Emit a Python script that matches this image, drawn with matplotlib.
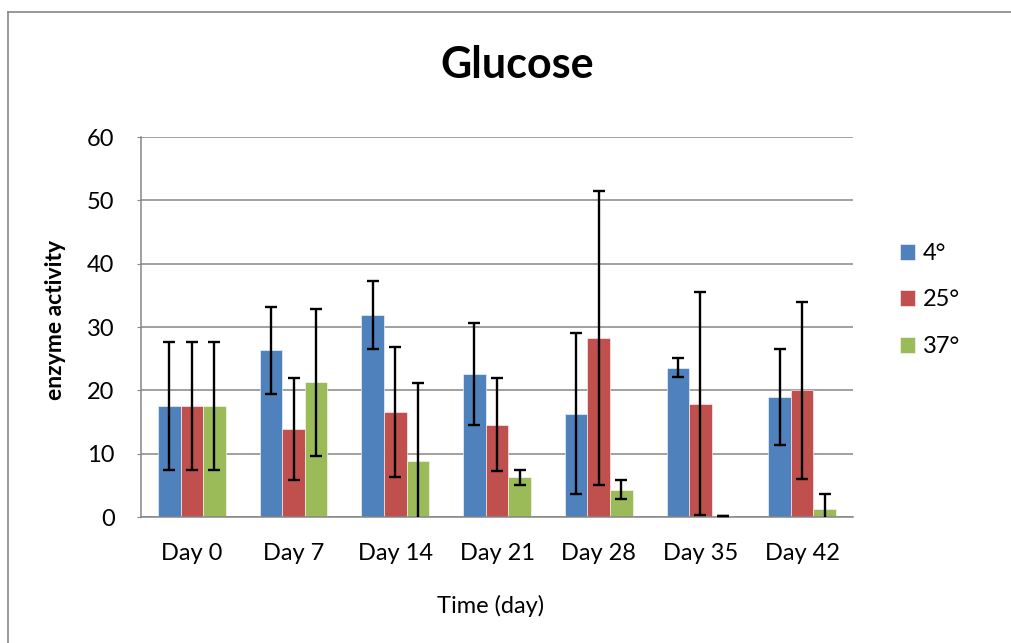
import matplotlib.pyplot as plt
import numpy as np
from matplotlib.lines import Line2D

# Data
days = ['Day 0', 'Day 7', 'Day 14', 'Day 21', 'Day 28', 'Day 35', 'Day 42']
series = ['4°', '25°', '37°']
vals_4 = [17.6, 26.3, 31.9, 22.6, 16.3, 23.6, 18.9]
vals_25 = [17.6, 13.9, 16.6, 14.6, 28.3, 17.9, 20.0]
vals_37 = [17.6, 21.3, 8.9, 6.3, 4.3, 0.1, 1.3]
err_4 = [10.1, 6.9, 5.3, 8.1, 12.7, 1.55, 7.6]
err_25 = [10.1, 8.0, 10.3, 7.3, 23.2, 17.6, 14.0]
err_37 = [10.1, 11.6, 12.2, 1.2, 1.5, 0.0, 2.3]

colors = ['#4F81BD', '#C0504D', '#9BBB59']
grey = '#868686'
W, H = 1011, 643

plt.rcParams['font.family'] = ['Lato', 'DejaVu Sans']

fig = plt.figure(figsize=(W/100, H/100), dpi=100)
ax = fig.add_axes([141/W, 1-517/H, (853-141)/W, (517-137)/H])

x = np.arange(len(days))
bw = 2/9
allvals = [vals_4, vals_25, vals_37]
allerr = [err_4, err_25, err_37]
for k in range(3):
    ax.bar(x + (k-1)*bw, allvals[k], width=bw, color=colors[k], edgecolor='white',
           linewidth=0.4, label=series[k], zorder=2)
    ax.errorbar(x + (k-1)*bw, allvals[k], yerr=allerr[k], fmt='none', ecolor='black',
                elinewidth=1.7, capsize=4.5, capthick=1.7, zorder=3)

ax.set_xlim(-0.5, 6.5)
ax.set_ylim(0, 60)
ax.set_yticks(range(0, 61, 10))
ax.set_xticks(x)
ax.set_xticklabels(days)
ax.yaxis.grid(True, color=grey, linewidth=1.1, zorder=0)
ax.set_axisbelow(True)
for s in ['top', 'right']:
    ax.spines[s].set_visible(False)
for s in ['left', 'bottom']:
    ax.spines[s].set_color(grey)
    ax.spines[s].set_linewidth(1.1)
ax.tick_params(axis='y', length=3, color=grey, labelsize=17, pad=16)
ax.tick_params(axis='x', length=0, labelsize=17, pad=19)

fig.text(517/W, 1-65/H, 'Glucose', ha='center', va='center', fontsize=31, fontweight='bold')
fig.text(55/W, 1-320/H, 'enzyme activity', ha='center', va='center', rotation=90,
         fontsize=16.5, fontweight='bold')
fig.text(491/W, 1-606/H, 'Time (day)', ha='center', va='center', fontsize=17)

leg = fig.legend(loc='upper left', bbox_to_anchor=(900/W, 1-243/H), frameon=False,
                 fontsize=17, handlelength=0.65, handleheight=0.65, handletextpad=0.3,
                 labelspacing=1.08, borderpad=0, borderaxespad=0)

# outer chart border (only top and left visible)
fig.add_artist(Line2D([8/W, 1.05], [1-12/H, 1-12/H], color=grey, linewidth=1.2,
                      transform=fig.transFigure))
fig.add_artist(Line2D([8/W, 8/W], [1-12/H, -0.05], color=grey, linewidth=1.2,
                      transform=fig.transFigure))

fig.savefig('out.png', dpi=100)
